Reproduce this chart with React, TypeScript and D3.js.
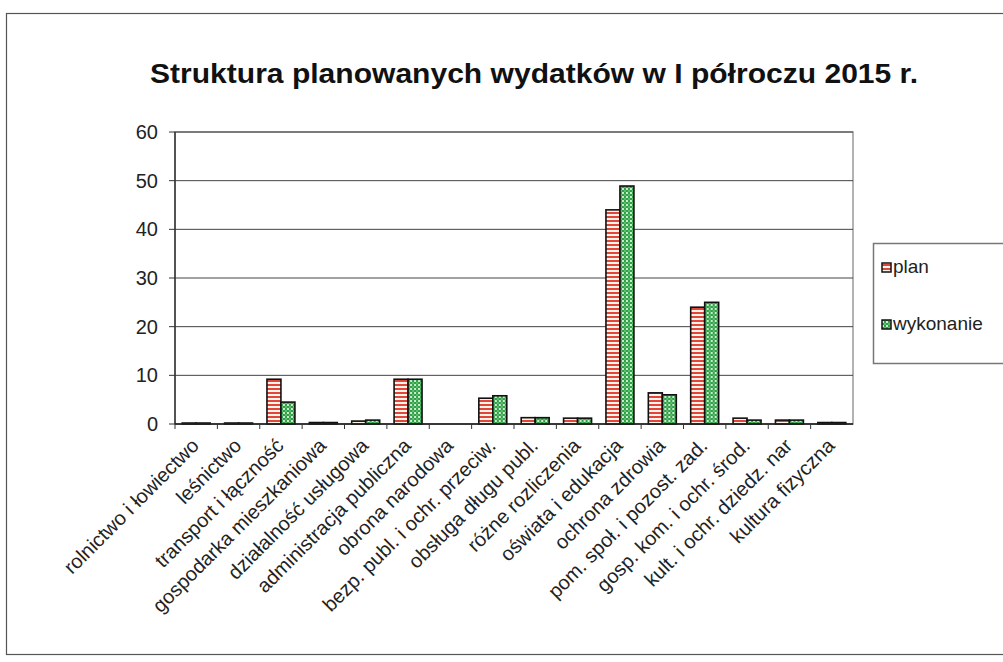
import { useEffect } from "react";
import * as d3 from "d3";

const categories = [
  "rolnictwo i łowiectwo",
  "leśnictwo",
  "transport i łączność",
  "gospodarka mieszkaniowa",
  "działalność usługowa",
  "administracja publiczna",
  "obrona narodowa",
  "bezp. publ. i ochr. przeciw.",
  "obsługa długu publ.",
  "różne rozliczenia",
  "oświata i edukacja",
  "ochrona zdrowia",
  "pom. społ. i pozost. zad.",
  "gosp. kom. i ochr. środ.",
  "kult. i ochr. dziedz. nar",
  "kultura fizyczna",
];
const plan = [0.2, 0.2, 9.2, 0.3, 0.6, 9.2, 0, 5.3, 1.3, 1.2, 44, 6.4, 24, 1.2, 0.8, 0.3];
const wykonanie = [0.2, 0.2, 4.5, 0.3, 0.8, 9.2, 0, 5.8, 1.3, 1.2, 48.9, 6.0, 25, 0.8, 0.8, 0.3];
const seriesNames = ["plan", "wykonanie"];
const yTicks = [0, 10, 20, 30, 40, 50, 60];
const title = "Struktura planowanych wydatków w I półroczu 2015 r.";

const W = 1003;
const H = 662;
const font = "'Liberation Sans', Arial, sans-serif";

export default function App() {
  useEffect(() => {
    document.body.style.margin = "0";
  }, []);

  const x = d3
    .scaleBand<string>()
    .domain(categories)
    .range([175, 853])
    .paddingInner(0.34)
    .paddingOuter(0.17);
  const x1 = d3.scaleBand<string>().domain(seriesNames).range([0, x.bandwidth()]);
  const y = d3.scaleLinear().domain([0, 60]).range([424, 132]);
  const series = [plan, wykonanie];
  const fills = ["url(#pPlan)", "url(#pWyk)"];

  return (
    <svg width={W} height={H} style={{ display: "block", background: "#fff" }} fontFamily={font}>
      <defs>
        <pattern id="pPlan" width="6" height="4" patternUnits="userSpaceOnUse">
          <rect width="6" height="4" fill="#fff4ea" />
          <rect y="0" width="6" height="2" fill="#e2463a" />
        </pattern>
        <pattern id="pWyk" width="4" height="4" patternUnits="userSpaceOnUse">
          <rect width="4" height="4" fill="#2f9e4a" />
          <rect x="0" y="0" width="2" height="2" fill="#cfeccf" />
          <rect x="2" y="2" width="2" height="2" fill="#5cbf6a" />
        </pattern>
      </defs>

      {/* outer chart frame */}
      <rect x={6.5} y={13.5} width={W + 10} height={641} fill="none" stroke="#555" strokeWidth={1.2} />

      <text
        x={150}
        y={83}
        textLength={768}
        lengthAdjust="spacingAndGlyphs"
        fontSize={27}
        fontWeight="bold"
        fill="#111"
      >
        {title}
      </text>

      {/* plot frame & grid */}
      <rect x={175} y={132} width={678} height={292} fill="none" stroke="#999" strokeWidth={1.5} />
      {yTicks.map((t) => (
        <g key={t}>
          <line x1={175} x2={853} y1={y(t)} y2={y(t)} stroke="#444" strokeWidth={1} />
          <line x1={169} x2={175} y1={y(t)} y2={y(t)} stroke="#333" />
          <text x={158} y={y(t) + 7} textAnchor="end" fontSize={20} fill="#222">
            {t}
          </text>
        </g>
      ))}
      <line x1={175} x2={175} y1={132} y2={424} stroke="#333" strokeWidth={1.5} />

      {/* bars */}
      {categories.map((c, i) => (
        <g key={c} transform={`translate(${x(c)},0)`}>
          {series.map((s, j) => {
            const v = s[i];
            if (v <= 0) return null;
            return (
              <rect
                key={j}
                x={x1(seriesNames[j])}
                y={y(v)}
                width={x1.bandwidth()}
                height={y(0) - y(v)}
                fill={fills[j]}
                stroke="#111"
                strokeWidth={1.6}
              />
            );
          })}
        </g>
      ))}
      <line x1={175} x2={853} y1={424} y2={424} stroke="#222" strokeWidth={1.5} />
      {categories.map((c) => (
        <line
          key={c}
          x1={(x(c) as number) - (x.step() - x.bandwidth()) / 2}
          x2={(x(c) as number) - (x.step() - x.bandwidth()) / 2}
          y1={424}
          y2={429}
          stroke="#333"
        />
      ))}

      {/* x labels */}
      {categories.map((c) => {
        const cx = (x(c) as number) + x.bandwidth() / 2 + 4;
        return (
          <text
            key={c}
            transform={`translate(${cx},${447}) rotate(-45)`}
            textAnchor="end"
            fontSize={20}
            fill="#222"
          >
            {c}
          </text>
        );
      })}

      {/* legend */}
      <rect x={873.5} y={243.5} width={140} height={120} fill="#fff" stroke="#777" strokeWidth={1.5} />
      {seriesNames.map((n, j) => (
        <g key={n} transform={`translate(882,${268 + j * 57})`}>
          <rect x={0} y={-5} width={9} height={9} fill={fills[j]} stroke="#111" strokeWidth={1.5} />
          <text x={11} y={5} fontSize={19} fill="#222">
            {n}
          </text>
        </g>
      ))}
    </svg>
  );
}
